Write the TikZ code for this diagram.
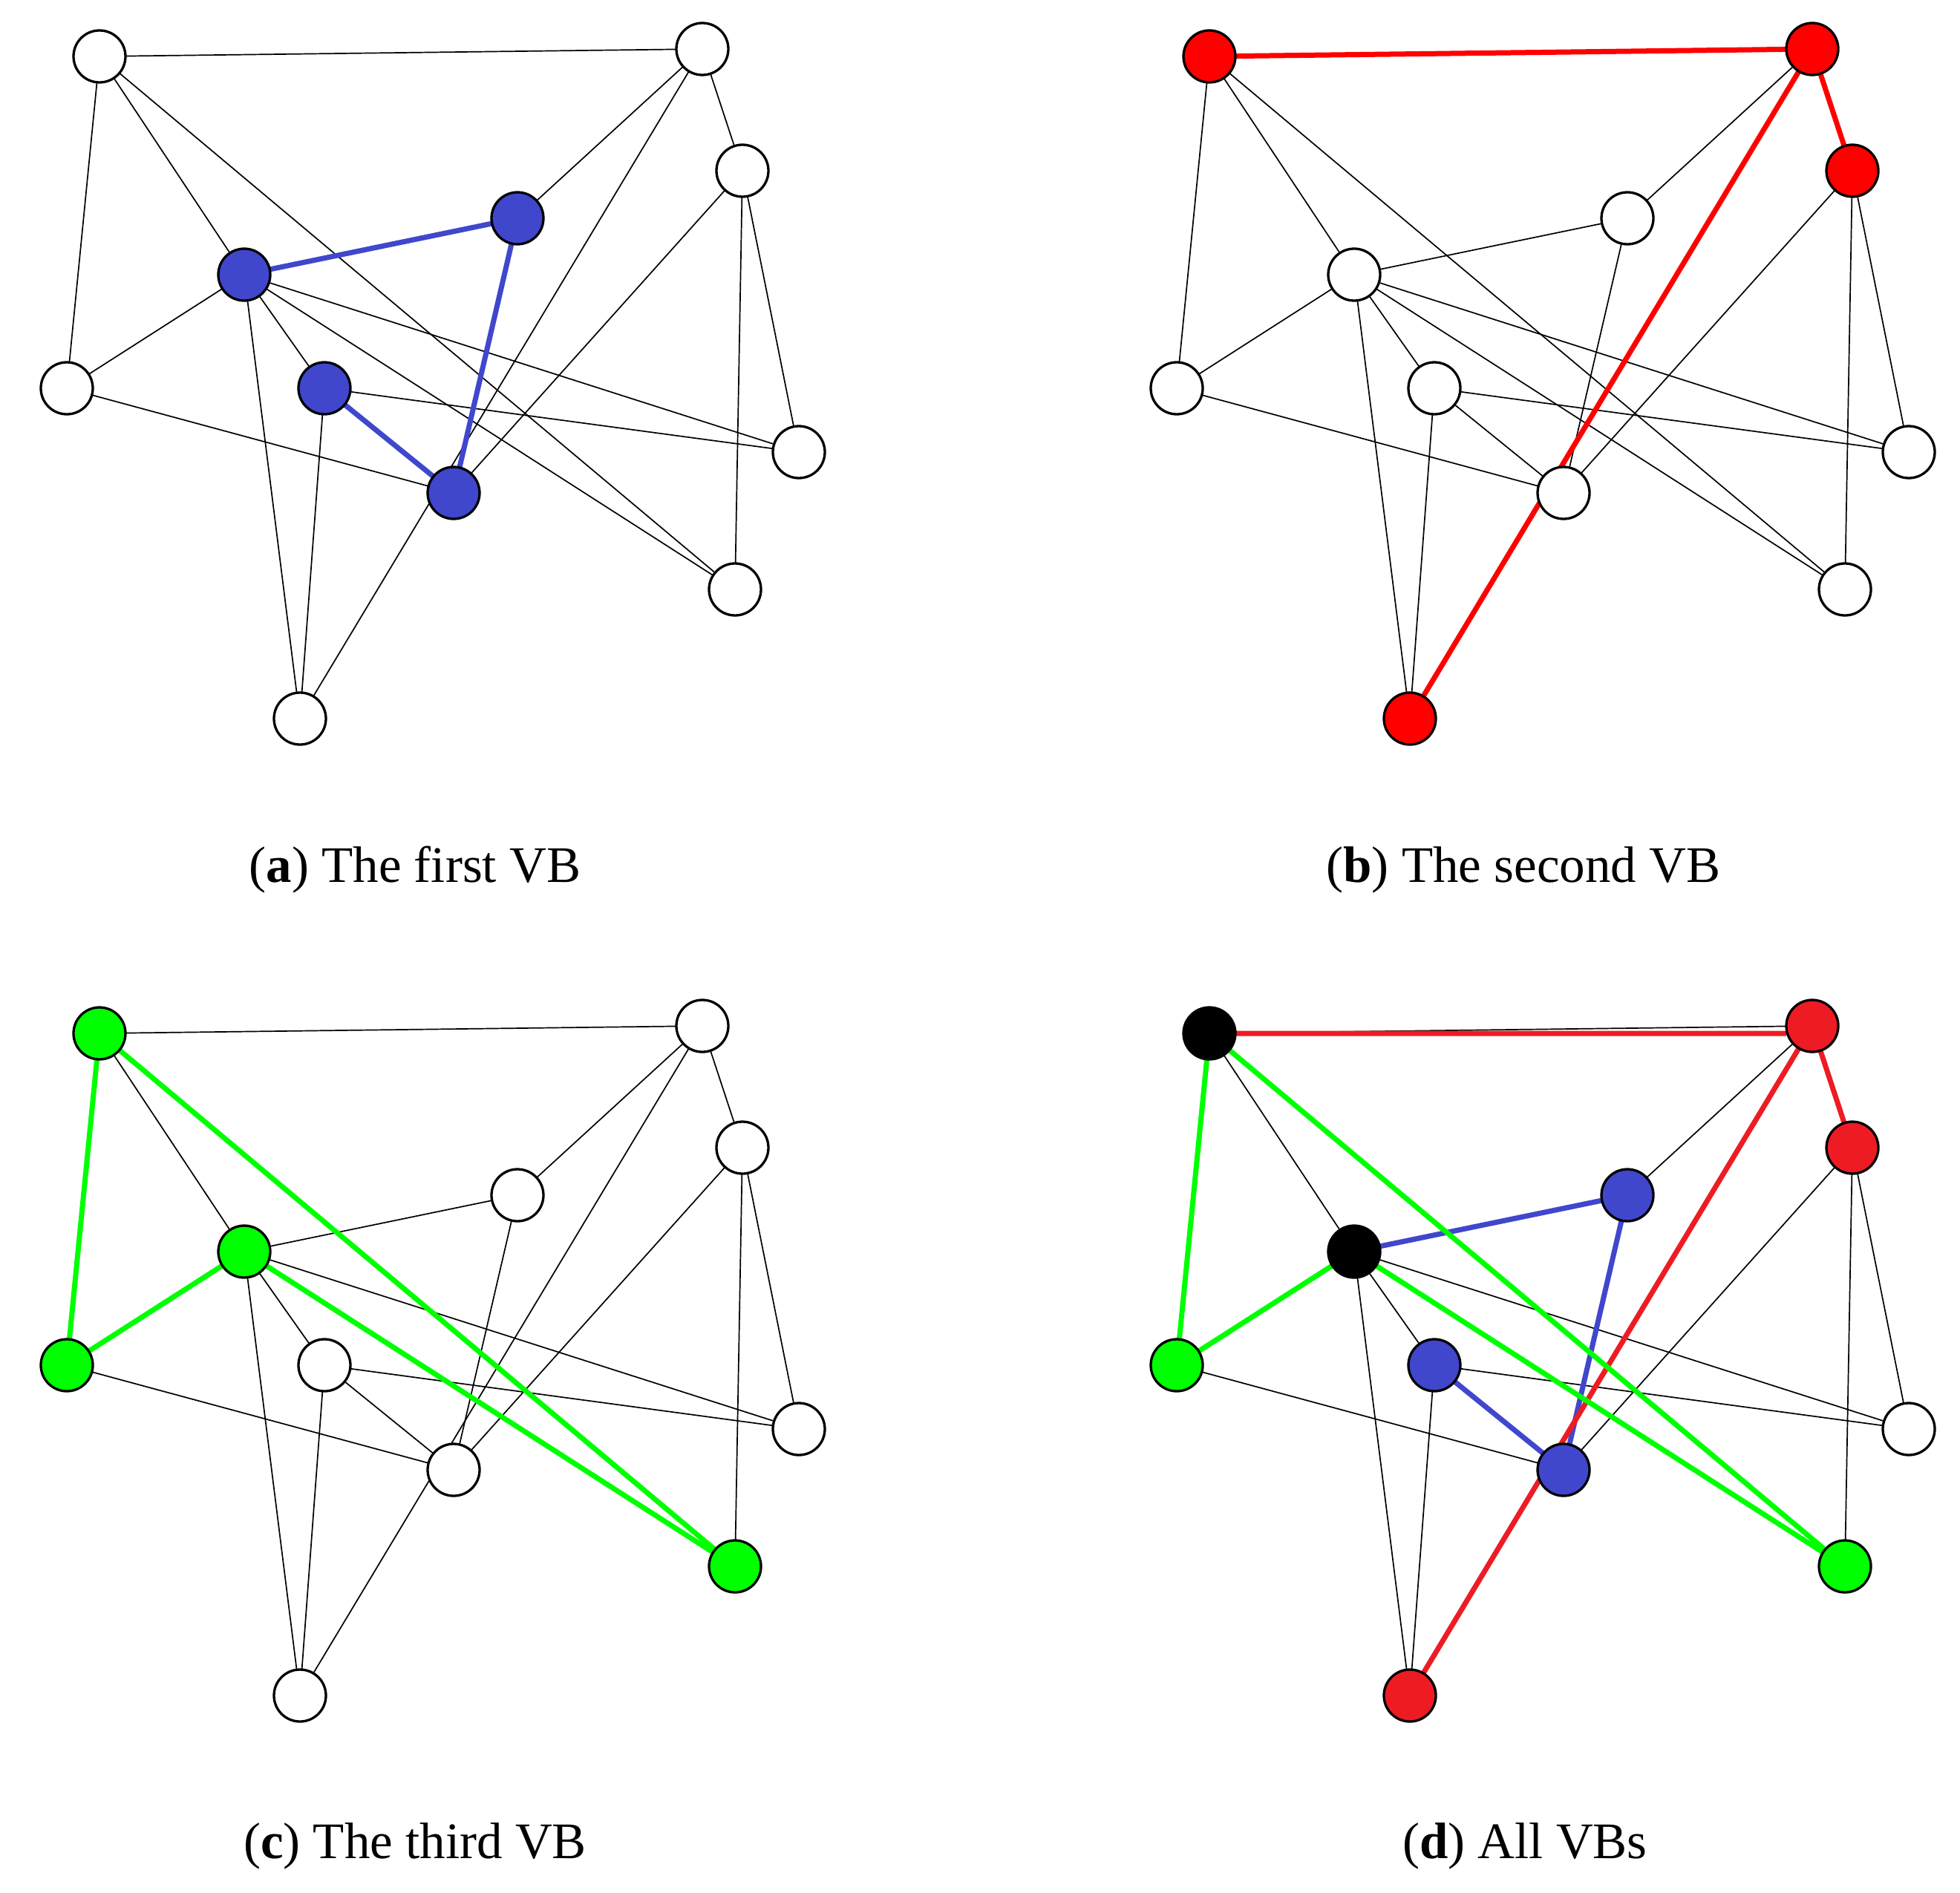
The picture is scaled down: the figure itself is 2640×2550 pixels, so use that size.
\documentclass[tikz,border=0pt]{standalone}
\usepackage{fontspec}
\setmainfont{Liberation Serif}
\usetikzlibrary{backgrounds}
\definecolor{vblue}{RGB}{64,71,204}
\definecolor{vred}{RGB}{255,0,0}
\definecolor{vredd}{RGB}{237,28,36}
\definecolor{vgreen}{RGB}{0,255,0}
% default node colours (white), then the coloured vertices of each panel
\foreach \p in {a,b,c,d}{\foreach \i in {1,...,11}{\xglobal\colorlet{col\p\i}{white}}}
\colorlet{cola4}{vblue}\colorlet{cola5}{vblue}\colorlet{cola7}{vblue}\colorlet{cola9}{vblue}
\colorlet{colb1}{vred}\colorlet{colb2}{vred}\colorlet{colb3}{vred}\colorlet{colb11}{vred}
\colorlet{colc1}{vgreen}\colorlet{colc5}{vgreen}\colorlet{colc6}{vgreen}\colorlet{colc10}{vgreen}
\colorlet{cold1}{black}\colorlet{cold5}{black}
\colorlet{cold2}{vredd}\colorlet{cold3}{vredd}\colorlet{cold11}{vredd}
\colorlet{cold4}{vblue}\colorlet{cold7}{vblue}\colorlet{cold9}{vblue}
\colorlet{cold6}{vgreen}\colorlet{cold10}{vgreen}
\tikzset{
  vx/.style={circle,draw=black,line width=3.3pt,minimum size=70pt,inner sep=0pt,outer sep=0pt},
  thinedge/.style={draw=black,line width=1.7pt},
  vbedge/.style={line width=7pt},
  captxt/.style={anchor=base,font=\fontsize{69}{80}\selectfont}
}
\def\vbcoords{1/134/76,2/946/66,3/1000/230,4/697/294,5/329/370,6/90/523,7/437/523,8/1076/609,9/611/664,10/990/794,11/404/968}
\def\vbedges{1/2,1/6,1/5,1/10,2/4,2/3,2/11,3/9,3/10,3/8,4/5,4/9,5/6,5/7,5/11,5/8,5/10,6/9,7/8,7/9,7/11}
\begin{document}
\begin{tikzpicture}[x=1pt,y=-1pt]
\useasboundingbox (0,0) rectangle (2640,2550);
\foreach \p/\dx/\dy in {a/0/0,b/1495/0,c/0/1316,d/1495/1316}{
  \begin{scope}[shift={(\dx,\dy)}]
    \foreach \i/\x/\y in \vbcoords{
      \node[vx,fill=col\p\i] (\p\i) at (\x,\y) {};
    }
  \end{scope}
  \begin{pgfonlayer}{background}
    \foreach \u/\v in \vbedges{\draw[thinedge] (\p\u) -- (\p\v);}
  \end{pgfonlayer}
}
\begin{pgfonlayer}{background}
  % (a) first VB
  \draw[vbedge,vblue] (a5) -- (a4) (a4) -- (a9) (a9) -- (a7);
  % (b) second VB
  \draw[vbedge,vred] (b1) -- (b2) (b2) -- (b3) (b2) -- (b11);
  % (c) third VB
  \draw[vbedge,vgreen] (c1) -- (c6) (c1) -- (c10) (c6) -- (c5) (c5) -- (c10);
  % (d) all VBs
  \draw[vbedge,vblue] (d5) -- (d4) (d4) -- (d9) (d9) -- (d7);
  \draw[vbedge,vredd] (d1.center) -- (d1.center -| d2.west) (d2) -- (d3) (d2) -- (d11);
  \draw[vbedge,vgreen] (d1) -- (d6) (d1) -- (d10) (d6) -- (d5) (d5) -- (d10);
\end{pgfonlayer}
\node[captxt] (capa) at (559,1188) {(\textbf{a})~The first VB};
\node[captxt] (capb) at (2052,1188) {(\textbf{b})~The second VB};
\node[captxt] (capc) at (559,2503) {(\textbf{c})~The third VB};
\node[captxt] (capd) at (2054,2503) {(\textbf{d})~All VBs};
\end{tikzpicture}
\end{document}
